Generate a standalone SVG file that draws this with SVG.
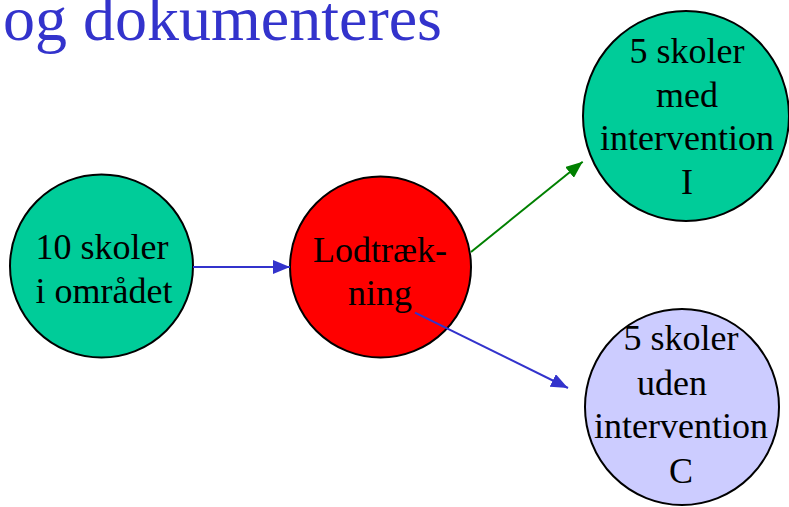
<svg xmlns="http://www.w3.org/2000/svg" width="789" height="507" viewBox="0 0 789 507">
<style>
.t{font-family:"Liberation Serif","Times New Roman",serif;font-size:36px;fill:#000;text-anchor:middle}
.title{font-family:"Liberation Serif","Times New Roman",serif;font-size:64px;fill:#3333CC}
.n{stroke:#000;stroke-width:2}
.c{fill:none;stroke-width:2}
</style>
<defs>
<marker id="ab" markerUnits="userSpaceOnUse" markerWidth="17" markerHeight="14" refX="17" refY="7" orient="auto"><path d="M0,0 L17,7 L0,14 z" fill="#3333CC"/></marker>
<marker id="ag" markerUnits="userSpaceOnUse" markerWidth="17" markerHeight="14" refX="17" refY="7" orient="auto"><path d="M0,0 L17,7 L0,14 z" fill="#008000"/></marker>
</defs>
<rect width="789" height="507" fill="#fff"/>
<text class="title" x="3" y="40">og dokumenteres</text>
<g id="n1"><circle class="n" cx="101.5" cy="266" r="91.5" fill="#00CC99"/><text class="t" x="102" y="259">10 skoler</text><text class="t" x="104" y="303">i området</text></g>
<g id="n2"><circle class="n" cx="380.5" cy="267" r="90.5" fill="#FF0000"/><text class="t" x="380" y="262">Lodtræk-</text><text class="t" x="380" y="305">ning</text></g>
<g id="n3"><ellipse class="n" cx="686" cy="116" rx="103" ry="105" fill="#00CC99"/><text class="t" x="687" y="63">5 skoler</text><text class="t" x="687" y="107">med</text><text class="t" x="687" y="150">intervention</text><text class="t" x="687" y="194">I</text></g>
<g id="n4"><ellipse class="n" cx="682" cy="407" rx="97" ry="98" fill="#CCCCFF"/><text class="t" x="681" y="350">5 skoler</text><text class="t" x="672" y="395">uden</text><text class="t" x="681" y="438">intervention</text><text class="t" x="681" y="483">C</text></g>
<g id="connectors">
<line class="c" x1="193" y1="267" x2="290" y2="267" stroke="#3333CC" marker-end="url(#ab)"/>
<line class="c" x1="471" y1="252" x2="582.7" y2="161.7" stroke="#008000" marker-end="url(#ag)"/>
<line class="c" x1="415" y1="312.7" x2="568" y2="388" stroke="#3333CC" marker-end="url(#ab)"/>
</g>
</svg>
